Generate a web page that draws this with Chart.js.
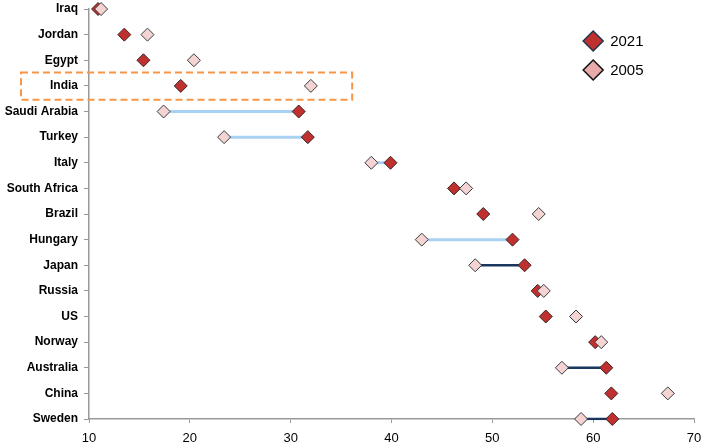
<!DOCTYPE html>
<html>
<head>
<meta charset="utf-8">
<script src="https://cdn.jsdelivr.net/npm/chart.js@4"></script>
<style>
  html, body { margin: 0; padding: 0; background: #fff; }
  #wrap { width: 720px; height: 445px; position: relative; }
</style>
</head>
<body>
<div id="wrap"><canvas id="gapChart"></canvas></div>
<script>
// Countries, top to bottom
const countries = ['Iraq', 'Jordan', 'Egypt', 'India', 'Saudi Arabia', 'Turkey', 'Italy',
  'South Africa', 'Brazil', 'Hungary', 'Japan', 'Russia', 'US', 'Norway', 'Australia',
  'China', 'Sweden'];
const values2021 = [10.9, 13.5, 15.4, 19.1, 30.8, 31.7, 39.9, 46.2, 49.1, 52.0, 53.2,
  54.5, 55.3, 60.2, 61.3, 61.8, 61.9];
const values2005 = [11.2, 15.8, 20.4, 32.0, 17.4, 23.4, 38.0, 47.4, 54.6, 43.0, 48.3,
  55.1, 58.3, 60.8, 56.9, 67.4, 58.8];
const xTicks = [10, 20, 30, 40, 50, 60, 70];
// countries whose two points are joined
const lightLinks = ['Saudi Arabia', 'Turkey', 'Italy', 'Hungary'];
const darkLinks = ['Japan', 'Australia', 'Sweden'];
const highlighted = 'India';

const RED = '#C0302F';
const PINK = '#F4D3D3';

function pair(name) {
  const i = countries.indexOf(name);
  return [{ x: values2005[i], y: name }, { x: values2021[i], y: name }];
}

function linkSet(name, color, width) {
  return {
    label: 'link ' + name,
    data: pair(name),
    showLine: true,
    borderColor: color,
    borderWidth: width,
    pointRadius: 0,
    pointHoverRadius: 0
  };
}

const datasets = [
  {
    label: '2005',
    data: countries.map((c, i) => ({ x: values2005[i], y: c })),
    pointStyle: 'rectRot',
    pointRadius: 6.5,
    backgroundColor: PINK,
    borderColor: '#3a3a3a',
    borderWidth: 1
  },
  {
    label: '2021',
    data: countries.map((c, i) => ({ x: values2021[i], y: c })),
    pointStyle: 'rectRot',
    pointRadius: 6.5,
    backgroundColor: RED,
    borderColor: '#3a2424',
    borderWidth: 1
  }
]
  .concat(lightLinks.map(c => linkSet(c, '#A9D1F1', 3)))
  .concat(darkLinks.map(c => linkSet(c, '#17375E', 2.5)));

// dashed box round the highlighted row, plus the legend inside the plot
const extras = {
  id: 'extras',
  afterDraw(chart) {
    const ctx = chart.ctx;
    const xs = chart.scales.x, ys = chart.scales.y;
    const step = ys.getPixelForValue(1) - ys.getPixelForValue(0);
    const yc = ys.getPixelForValue(countries.indexOf(highlighted));
    ctx.save();
    ctx.strokeStyle = '#F79646';
    ctx.lineWidth = 2;
    ctx.setLineDash([7, 4]);
    const left = chart.chartArea.left - 68;
    const right = xs.getPixelForValue(36.1);
    ctx.strokeRect(left, yc - step * 0.52, right - left, step * 1.06);
    ctx.setLineDash([]);

    const items = [
      { text: '2021', fill: RED, stroke: '#1F3550', dy: 0 },
      { text: '2005', fill: '#E8AAAA', stroke: '#111', dy: 29 }
    ];
    const lx = xs.getPixelForValue(60);
    items.forEach(it => {
      const y = chart.chartArea.top + 32 + it.dy;
      ctx.beginPath();
      ctx.moveTo(lx - 10, y);
      ctx.lineTo(lx, y - 10);
      ctx.lineTo(lx + 10, y);
      ctx.lineTo(lx, y + 10);
      ctx.closePath();
      ctx.fillStyle = it.fill;
      ctx.fill();
      ctx.lineWidth = 1.5;
      ctx.strokeStyle = it.stroke;
      ctx.stroke();
      ctx.fillStyle = '#000';
      ctx.font = '15px "Liberation Sans", Arial, sans-serif';
      ctx.textBaseline = 'middle';
      ctx.fillText(it.text, lx + 17, y + 1);
    });
    ctx.restore();
  }
};

new Chart(document.getElementById('gapChart').getContext('2d'), {
  type: 'scatter',
  data: { datasets: datasets },
  options: {
    responsive: true,
    maintainAspectRatio: false,
    animation: false,
    layout: { padding: { top: 9, right: 26, left: 0, bottom: 0 } },
    plugins: {
      legend: { display: false },
      tooltip: { enabled: false }
    },
    scales: {
      x: {
        type: 'linear',
        min: 10,
        max: 70,
        afterBuildTicks: s => { s.ticks = xTicks.map(v => ({ value: v })); },
        grid: { drawOnChartArea: false, color: '#999', tickLength: 4 },
        border: { color: '#999', width: 1.5 },
        ticks: {
          color: '#000',
          padding: 8,
          maxRotation: 0,
          font: { family: '"Liberation Sans", Arial, sans-serif', size: 13 }
        },
        afterFit: s => { s.height = 26; }
      },
      y: {
        type: 'category',
        labels: countries,
        offset: false,
        grid: { drawOnChartArea: false, color: '#999', tickLength: 5 },
        border: { color: '#999', width: 1.5 },
        ticks: {
          color: '#000',
          padding: 6,
          autoSkip: false,
          font: { family: '"Liberation Sans", Arial, sans-serif', size: 12, weight: 'bold' }
        },
        afterFit: s => { s.width = 89; s.paddingTop = 0; s.paddingBottom = 0; }
      }
    }
  },
  plugins: [extras]
});
</script>
</body>
</html>
